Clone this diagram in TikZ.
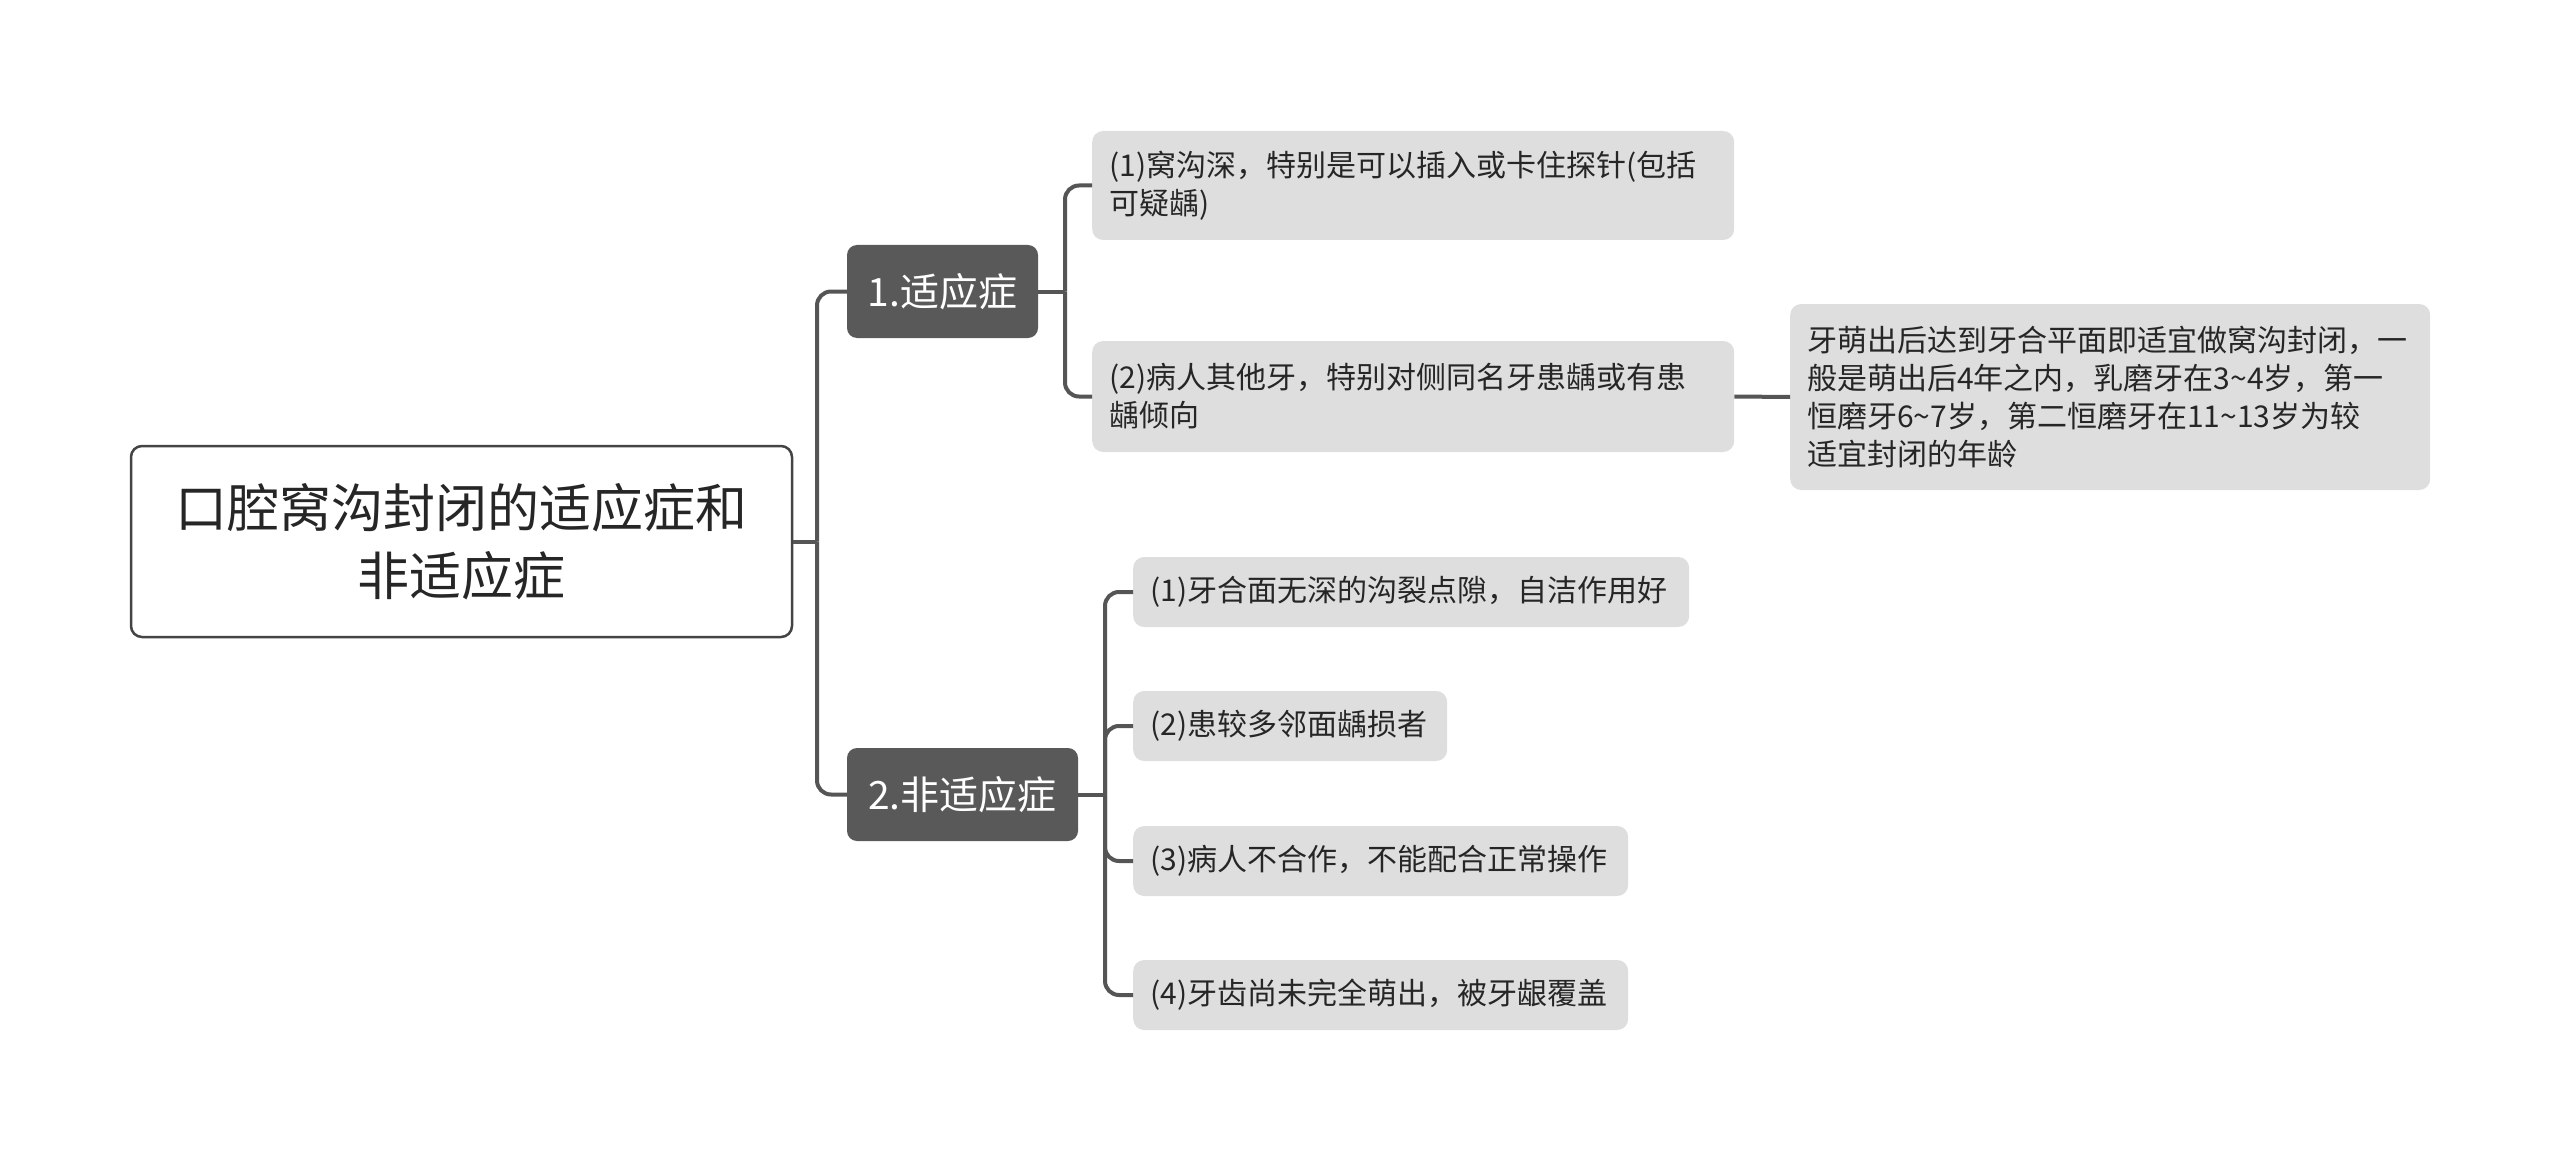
\documentclass[tikz,border=0pt]{standalone}
\usepackage{fontspec}
\setmainfont{Noto Sans CJK SC}
\definecolor{darkbox}{HTML}{595959}
\definecolor{lightbox}{HTML}{DEDEDE}
\definecolor{linec}{HTML}{555555}
\definecolor{txt}{HTML}{262626}
\begin{document}
\begin{tikzpicture}[x=1pt,y=-1pt,
  rootbox/.style={draw=linec!80!black,line width=2.5pt,fill=white,rounded corners=11pt,
     minimum width=661pt,minimum height=191pt,inner sep=0pt,align=center,text=txt,
     font=\fontsize{52}{68}\selectfont},
  topicbox/.style={fill=darkbox,rounded corners=10pt,minimum height=93pt,inner sep=0pt,
     text=white,font=\fontsize{39}{46}\selectfont},
  leafbox/.style={fill=lightbox,rounded corners=11pt,inner xsep=17pt,inner ysep=0pt,
     align=left,text=txt,font=\fontsize{30}{38}\selectfont,anchor=west},
  conn/.style={draw=linec,line width=4pt},
  elbow/.style={conn,rounded corners=14pt}]
\useasboundingbox (0,0) rectangle (2560,1161);

\node[rootbox] (root) at (461.5,541.5) {口腔窝沟封闭的适应症和\\非适应症};
\node[topicbox,minimum width=191pt] (a1) at (942.5,291.5) {1.适应症};
\node[topicbox,minimum width=231pt] (a2) at (962.5,794.5) {2.非适应症};

\node[leafbox,text width=608pt,minimum height=109pt] (b1) at (1092,185.5)
  {(1)窝沟深，特别是可以插入或卡住探针(包括\\可疑龋)};
\node[leafbox,text width=608pt,minimum height=111pt] (b2) at (1092,396.5)
  {(2)病人其他牙，特别对侧同名牙患龋或有患\\龋倾向};
\node[leafbox,text width=606pt,minimum height=186pt] (c1) at (1790,397)
  {牙萌出后达到牙合平面即适宜做窝沟封闭，一\\般是萌出后4年之内，乳磨牙在3\textasciitilde 4岁，第一\\恒磨牙6\textasciitilde 7岁，第二恒磨牙在11\textasciitilde 13岁为较\\适宜封闭的年龄};

\node[leafbox,text width=522pt,minimum height=70pt] (d1) at (1133,592) {(1)牙合面无深的沟裂点隙，自洁作用好};
\node[leafbox,text width=280pt,minimum height=70pt] (d2) at (1133,726) {(2)患较多邻面龋损者};
\node[leafbox,text width=461pt,minimum height=70pt] (d3) at (1133,861) {(3)病人不合作，不能配合正常操作};
\node[leafbox,text width=461pt,minimum height=70pt] (d4) at (1133,995) {(4)牙齿尚未完全萌出，被牙龈覆盖};

\coordinate (j0) at (817,541.5);
\coordinate (j1) at (1065,291.5);
\coordinate (j2) at (1105,794.5);

\draw[conn] (root.east) -- (j0);
\draw[elbow] (j0) |- (a1.west);
\draw[elbow] (j0) |- (a2.west);

\draw[conn] (a1.east) -- (j1);
\draw[elbow] (j1) |- (b1.west);
\draw[elbow] (j1) |- (b2.west);

\draw[conn] (b2.east) -- (c1.west);

\draw[conn] (a2.east) -- (j2);
\draw[elbow] (j2) |- (d1.west);
\draw[elbow] (j2) |- (d2.west);
\draw[elbow] (j2) |- (d3.west);
\draw[elbow] (j2) |- (d4.west);
\end{tikzpicture}
\end{document}
